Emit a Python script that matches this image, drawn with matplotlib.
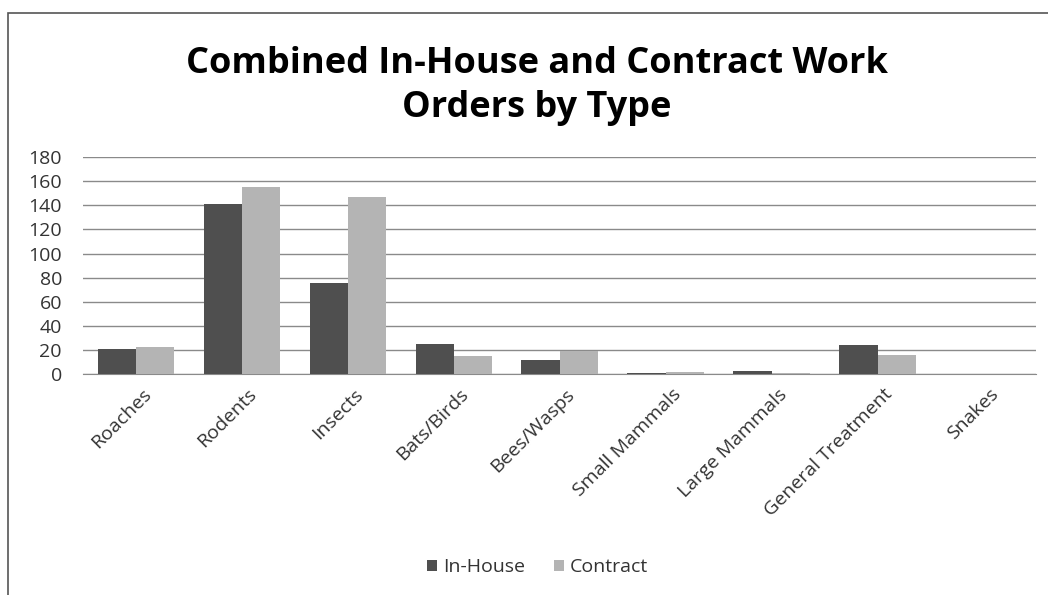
import numpy as np
import matplotlib.pyplot as plt
import matplotlib.transforms as mtransforms
from matplotlib.patches import Rectangle

# values
categories = ['Roaches', 'Rodents', 'Insects', 'Bats/Birds', 'Bees/Wasps',
              'Small Mammals', 'Large Mammals', 'General Treatment', 'Snakes']
in_house = [21, 141, 76, 25, 12, 1, 3, 24, 0]
contract = [23, 155, 147, 15, 19, 2, 1, 16, 0]
yticks = [0, 20, 40, 60, 80, 100, 120, 140, 160, 180]

plt.rcParams['font.family'] = ['Open Sans', 'DejaVu Sans']

fig = plt.figure(figsize=(10.48, 5.95), dpi=100)
ax = fig.add_axes([0.079, 0.371, 0.910, 0.365])

x = np.arange(len(categories))
w = 0.36
ax.bar(x - w / 2, in_house, w, color='#4f4f4f', label='In-House', zorder=3)
ax.bar(x + w / 2, contract, w, color='#b4b4b4', label='Contract', zorder=3)

ax.set_xlim(-0.5, len(categories) - 0.5)
ax.set_ylim(0, 180)
ax.set_yticks(yticks)
ax.yaxis.grid(True, color='#8a8a8a', linewidth=1.0, zorder=0)
ax.tick_params(axis='y', length=0, labelsize=14, pad=15, colors='#333333')
ax.tick_params(axis='x', length=0, labelsize=14, pad=8, colors='#333333')
ax.set_xticks(x)
ax.set_xticklabels(categories, rotation=45, ha='right', rotation_mode='anchor')
# nudge rotated labels a little to the right, like the original
shift = mtransforms.ScaledTranslation(6 / 100, 0, fig.dpi_scale_trans)
for lbl in ax.get_xticklabels():
    lbl.set_transform(lbl.get_transform() + shift)
for s in ['top', 'right', 'left']:
    ax.spines[s].set_visible(False)
ax.spines['bottom'].set_color('#8a8a8a')

fig.text(0.512, 0.855, 'Combined In-House and Contract Work\nOrders by Type',
         ha='center', va='center', fontsize=26, fontweight='bold',
         linespacing=1.3)

fig.legend(loc='center', bbox_to_anchor=(0.513, 0.047), ncol=2, frameon=False,
           fontsize=14, handlelength=0.5, handleheight=0.5, handletextpad=0.3,
           columnspacing=1.5, labelcolor='#333333')

fig.patches.append(Rectangle((0.008, -0.01), 1.1, 0.988, transform=fig.transFigure,
                             fill=False, edgecolor='#555555', linewidth=1.2))

fig.savefig('out.png', dpi=100)
